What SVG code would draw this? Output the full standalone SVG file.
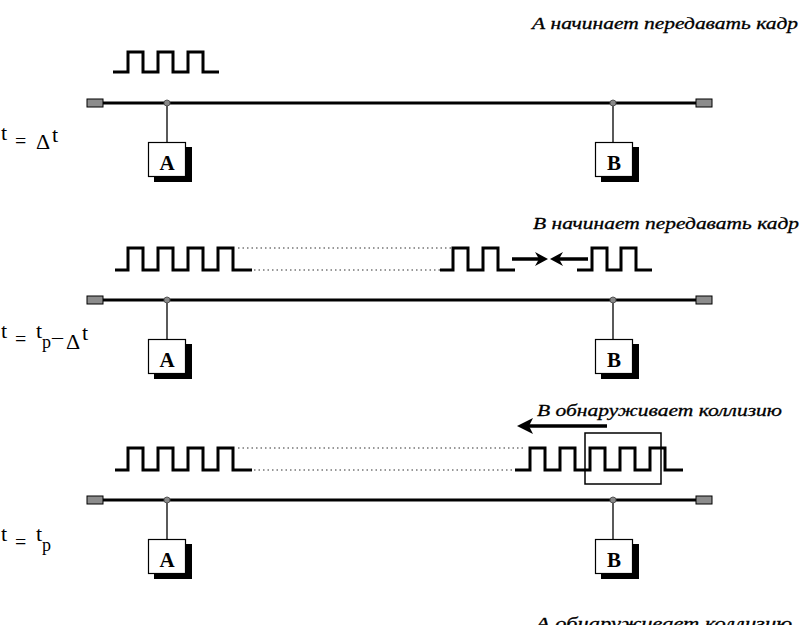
<svg xmlns="http://www.w3.org/2000/svg" width="807" height="625" viewBox="0 0 807 625">
<defs>
<style>
.bus{stroke:#000;stroke-width:3;fill:none}
.cap{fill:#8c8c8c;stroke:#000;stroke-width:1}
.tap{fill:#888;stroke:#555;stroke-width:1}
.drop{stroke:#000;stroke-width:1.3}
.box{fill:#fff;stroke:#000;stroke-width:1.2}
.shadow{fill:#000}
.wave{fill:none;stroke:#000;stroke-width:3;stroke-linejoin:miter}
.dots{stroke:#333;stroke-width:1.2;stroke-dasharray:1.5 3}
.arr{stroke:#000;stroke-width:3.5;fill:none}
.head{fill:#000}
.cap-txt{font-family:"Liberation Serif",serif;font-style:italic;font-size:17px;fill:#000;stroke:#000;stroke-width:0.3}
.nodelbl{font-family:"Liberation Serif",serif;font-size:21px;font-weight:bold;fill:#000;text-anchor:middle}
.lbl{font-family:"Liberation Serif",serif;font-size:22px;fill:#000}
.lbl tspan{font-family:"Liberation Serif",serif}
.eq{font-size:20px}
.sub{font-size:18px}
</style>
</defs>

<!-- Panel 1 -->
<g id="panel1">
  <text class="cap-txt" x="532" y="29" textLength="266" lengthAdjust="spacingAndGlyphs">А начинает передавать кадр</text>
  <text class="lbl"><tspan x="1" y="140">t</tspan><tspan class="eq" x="15" y="148">=</tspan><tspan x="36" y="149">Δ</tspan><tspan x="52" y="142">t</tspan></text>
  <g id="bus1">
    <line class="bus" x1="103" y1="103" x2="696" y2="103"/>
    <rect class="cap" x="87" y="99" width="16" height="8"/>
    <rect class="cap" x="696" y="99" width="16" height="8"/>
  </g>
  <g id="wave1"><path class="wave" d="M113,72 H128 V52 H143 V72 H158 V52 H173 V72 H188 V52 H203 V72 H219"/></g>
  <g id="nodeA1">
    <line class="drop" x1="167" y1="103" x2="167" y2="142"/>
    <circle class="tap" cx="167" cy="103" r="3"/>
    <rect class="shadow" x="154" y="147" width="38" height="35"/>
    <rect class="box" x="148.5" y="142.5" width="37" height="34"/>
    <text class="nodelbl" x="167" y="170">A</text>
  </g>
  <g id="nodeB1">
    <line class="drop" x1="613" y1="103" x2="613" y2="142"/>
    <circle class="tap" cx="613" cy="103" r="3"/>
    <rect class="shadow" x="601" y="147" width="38" height="35"/>
    <rect class="box" x="595.5" y="142.5" width="37" height="34"/>
    <text class="nodelbl" x="614" y="170">B</text>
  </g>
</g>

<!-- Panel 2 -->
<g id="panel2">
  <text class="cap-txt" x="533" y="229" textLength="266" lengthAdjust="spacingAndGlyphs">В начинает передавать кадр</text>
  <text class="lbl"><tspan x="1" y="338">t</tspan><tspan class="eq" x="15" y="346">=</tspan><tspan x="36" y="338">t</tspan><tspan class="sub" x="42" y="348">p</tspan><tspan x="52" y="344">–</tspan><tspan x="66" y="349">Δ</tspan><tspan x="82" y="340">t</tspan></text>
  <g id="bus2">
    <line class="bus" x1="103" y1="300" x2="696" y2="300"/>
    <rect class="cap" x="87" y="296" width="16" height="8"/>
    <rect class="cap" x="696" y="296" width="16" height="8"/>
  </g>
  <g id="wave2">
    <path class="wave" d="M115,270 H128 V248 H143 V270 H158 V248 H173 V270 H188 V248 H203 V270 H218 V248 H233 V270 H252"/>
    <line class="dots" x1="238" y1="248" x2="453" y2="248"/>
    <line class="dots" x1="254" y1="270" x2="440" y2="270"/>
    <path class="wave" d="M440,270 H453 V248 H468 V270 H483 V248 H498 V270 H515"/>
    <path class="wave" d="M577,270 H592 V248 H607 V270 H621 V248 H636 V270 H652"/>
  </g>
  <g id="arrows2">
    <line class="arr" x1="512" y1="259" x2="540" y2="259"/>
    <polygon class="head" points="548,259 535,252 539,259 535,266"/>
    <line class="arr" x1="558" y1="259" x2="588" y2="259"/>
    <polygon class="head" points="550,259 563,252 559,259 563,266"/>
  </g>
  <g id="nodeA2">
    <line class="drop" x1="167" y1="300" x2="167" y2="339"/>
    <circle class="tap" cx="167" cy="300" r="3"/>
    <rect class="shadow" x="154" y="344" width="38" height="35"/>
    <rect class="box" x="148.5" y="339.5" width="37" height="34"/>
    <text class="nodelbl" x="167" y="367">A</text>
  </g>
  <g id="nodeB2">
    <line class="drop" x1="613" y1="300" x2="613" y2="339"/>
    <circle class="tap" cx="613" cy="300" r="3"/>
    <rect class="shadow" x="601" y="344" width="38" height="35"/>
    <rect class="box" x="595.5" y="339.5" width="37" height="34"/>
    <text class="nodelbl" x="614" y="367">B</text>
  </g>
</g>

<!-- Panel 3 -->
<g id="panel3">
  <text class="cap-txt" x="537" y="416" textLength="245" lengthAdjust="spacingAndGlyphs">В обнаруживает коллизию</text>
  <text class="lbl"><tspan x="1" y="541">t</tspan><tspan class="eq" x="15" y="549">=</tspan><tspan x="36" y="541">t</tspan><tspan class="sub" x="42" y="551">p</tspan></text>
  <g id="bus3">
    <line class="bus" x1="103" y1="500" x2="696" y2="500"/>
    <rect class="cap" x="87" y="496" width="16" height="8"/>
    <rect class="cap" x="696" y="496" width="16" height="8"/>
  </g>
  <g id="wave3">
    <path class="wave" d="M115,470 H128 V448 H143 V470 H158 V448 H173 V470 H188 V448 H203 V470 H218 V448 H233 V470 H252"/>
    <line class="dots" x1="238" y1="448" x2="526" y2="448"/>
    <line class="dots" x1="254" y1="470" x2="515" y2="470"/>
    <path class="wave" d="M515,470 H530 V448 H545 V470 H560 V448 H575 V470 H590 V448 H605 V470 H620 V448 H635 V470 H650 V448 H665 V470 H683"/>
    <rect x="585" y="433" width="76" height="51" fill="none" stroke="#000" stroke-width="1.5"/>
  </g>
  <g id="arrow3">
    <line class="arr" x1="607" y1="426" x2="528" y2="426"/>
    <polygon class="head" points="517,426 533,418 529,426 533,434"/>
  </g>
  <g id="nodeA3">
    <line class="drop" x1="167" y1="500" x2="167" y2="539"/>
    <circle class="tap" cx="167" cy="500" r="3"/>
    <rect class="shadow" x="154" y="544" width="38" height="35"/>
    <rect class="box" x="148.5" y="539.5" width="37" height="34"/>
    <text class="nodelbl" x="167" y="567">A</text>
  </g>
  <g id="nodeB3">
    <line class="drop" x1="613" y1="500" x2="613" y2="539"/>
    <circle class="tap" cx="613" cy="500" r="3"/>
    <rect class="shadow" x="601" y="544" width="38" height="35"/>
    <rect class="box" x="595.5" y="539.5" width="37" height="34"/>
    <text class="nodelbl" x="614" y="567">B</text>
  </g>
</g>

<!-- Panel 4 (cut off at the bottom edge, as in the reference) -->
<g id="panel4">
  <text class="cap-txt" x="536" y="629" textLength="256" lengthAdjust="spacingAndGlyphs">А обнаруживает коллизию</text>
</g>
</svg>
